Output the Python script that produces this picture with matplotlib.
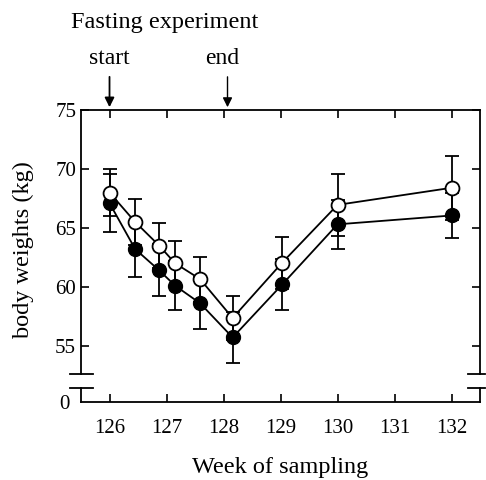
import matplotlib
matplotlib.use("Agg")
import matplotlib.pyplot as plt

plt.rcParams['font.family'] = ['Liberation Serif', 'DejaVu Serif']

# weeks of sampling
weeks = [126.0, 126.45, 126.87, 127.15, 127.59, 128.16, 129.03, 130.0, 132.0]
# open circles
open_mean = [68.0, 65.5, 63.5, 62.0, 60.65, 57.35, 62.05, 66.95, 68.4]
open_err = [2.0, 1.95, 1.9, 1.9, 1.9, 1.85, 2.2, 2.65, 2.7]
# filled circles
filled_mean = [67.1, 63.2, 61.4, 60.1, 58.6, 55.7, 60.2, 65.3, 66.05]
filled_err = [2.45, 2.4, 2.2, 2.1, 2.2, 2.2, 2.2, 2.1, 1.95]

xticks = [126, 127, 128, 129, 130, 131, 132]
yticks = [55, 60, 65, 70, 75]

fig = plt.figure(figsize=(4.86, 4.8), dpi=100)
ax = fig.add_axes([0.1667, 0.2208, 0.821, 0.55])
ax0 = fig.add_axes([0.1667, 0.1625, 0.821, 0.0292])

for s in ['left', 'right', 'top', 'bottom']:
    ax.spines[s].set_linewidth(1.3)
    ax0.spines[s].set_linewidth(1.3)
ax.spines['bottom'].set_visible(False)
ax0.spines['top'].set_visible(False)

# series
ax.errorbar(weeks, filled_mean, yerr=filled_err, color='black', lw=1.3,
            marker='o', ms=10, mfc='black', mec='black', capsize=5,
            elinewidth=1.3, capthick=1.3, zorder=3)
ax.errorbar(weeks, open_mean, yerr=open_err, color='black', lw=1.3,
            marker='o', ms=10, mfc='white', mec='black', mew=1.3, capsize=5,
            elinewidth=1.3, capthick=1.3, zorder=4)

ax.set_xlim(125.5, 132.5)
ax.set_ylim(52.6, 75)
ax.set_xticks(xticks)
ax.set_yticks(yticks)
ax.tick_params(axis='x', direction='in', top=True, bottom=False,
               labelbottom=False, length=6, width=1.2)
ax.tick_params(axis='y', direction='in', left=True, right=True,
               length=6, width=1.2, labelsize=15)

ax0.set_xlim(125.5, 132.5)
ax0.set_ylim(0, 1)
ax0.set_xticks(xticks)
ax0.set_yticks([0])
ax0.tick_params(axis='x', direction='in', length=6, width=1.2,
                labelsize=15, pad=12)
ax0.tick_params(axis='y', length=0, labelsize=15, pad=8)

# break marks
for a, y in [(ax, 0), (ax0, 1)]:
    a.plot([-0.027, 0.029], [y, y], transform=a.transAxes, color='black',
           lw=1.3, clip_on=False)
    a.plot([0.97, 1.013], [y, y], transform=a.transAxes, color='black',
           lw=1.3, clip_on=False)

ax.set_ylabel('body weights (kg)', fontsize=17.5)
ax.yaxis.set_label_coords(-0.118, 0.47)
ax0.set_xlabel('Week of sampling', fontsize=17.5, labelpad=14)

# fasting annotations
ax.annotate('', xy=(126.0, 75), xytext=(126.0, 78.05),
            arrowprops=dict(arrowstyle='-|>', color='black', lw=1.3,
                            mutation_scale=14), annotation_clip=False)
ax.annotate('', xy=(128.07, 75), xytext=(128.07, 78.05),
            arrowprops=dict(arrowstyle='-|>', color='black', lw=1.0,
                            mutation_scale=14), annotation_clip=False)
ax.text(126.0, 79.35, 'start', ha='center', va='center', fontsize=17)
ax.text(127.97, 79.35, 'end', ha='center', va='center', fontsize=17)
fig.text(0.146, 0.953, 'Fasting experiment', ha='left', va='center',
         fontsize=17.5)

fig.savefig('out.png', dpi=100)
